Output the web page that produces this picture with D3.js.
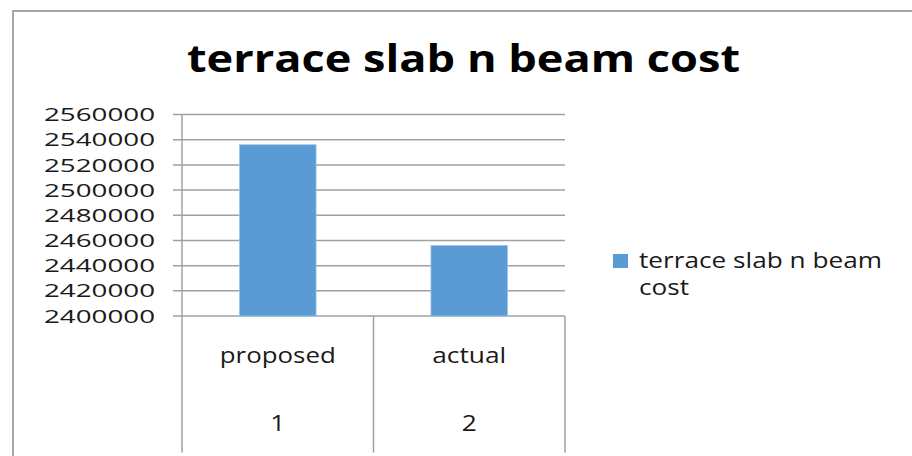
<html>
    <head>
        <meta charset="utf-8">
        <title>terrace slab n beam cost</title>
        <style type="text/css">
            body { margin: 0; background: #fff; }
            text { font-family: "Open Sans", sans-serif; fill: #1a1a1a; }
        </style>
        <script src="https://d3js.org/d3.v7.min.js"></script>
    </head>
    <body>
    	<svg width="912" height="456"></svg>
    	<script>
		// data
		var categories = ["proposed", "actual"];
		var categoryIndex = ["1", "2"];
		var seriesName = "terrace slab n beam cost";
		var values = [2536000, 2456000];
		var yTicks = [2400000, 2420000, 2440000, 2460000, 2480000, 2500000, 2520000, 2540000, 2560000];

		var svg = d3.select("svg"),
		    margin = {top: 114.5, left: 182},
		    width = 383,
		    height = 201.5,
		    g = svg.append("g").attr("transform", `translate(${margin.left},${margin.top})`);

		// outer chart border (runs off the right/bottom edge)
		svg.append("path")
			.attr("d", "M13,460 L13,11 L916,11")
			.attr("fill", "none")
			.attr("stroke", "#a6a6a6")
			.attr("stroke-width", 2);

		svg.append("text")
			.text(seriesName)
			.attr("x", 187)
			.attr("y", 72)
			.attr("textLength", 553)
			.attr("lengthAdjust", "spacingAndGlyphs")
			.style("font-size", "37px")
			.style("font-weight", "bold")
			.style("fill", "#000");

		var xScale = d3.scaleBand()
					.domain(categories)
					.range([0, width])
					.padding(0);
		var yScale = d3.scaleLinear()
					.domain([d3.min(yTicks), d3.max(yTicks)])
					.range([height, 0]);

		// gridlines + tick marks
		g.append("g")
			.selectAll("line")
			.data(yTicks)
			.enter()
			.append("line")
				.attr("x1", -9)
				.attr("x2", width)
				.attr("y1", d => yScale(d))
				.attr("y2", d => yScale(d))
				.attr("stroke", "#a0a0a0")
				.attr("stroke-width", 1.5);

		// y labels
		g.append("g")
			.selectAll("text")
			.data(yTicks)
			.enter()
			.append("text")
				.text(d => d3.format("d")(d))
				.attr("x", -27)
				.attr("y", d => yScale(d))
				.attr("dy", "0.36em")
				.attr("text-anchor", "end")
				.attr("textLength", 111)
				.attr("lengthAdjust", "spacingAndGlyphs")
				.style("font-size", "18.5px");

		// bars
		var barW = xScale.bandwidth() * 0.4;
		g.append("g")
			.selectAll("rect")
			.data(values)
			.enter()
			.append("rect")
				.attr("x", (d, i) => xScale(categories[i]) + (xScale.bandwidth() - barW) / 2)
				.attr("y", d => yScale(d))
				.attr("width", barW)
				.attr("height", d => height - yScale(d))
				.attr("fill", "#5b9bd5")
				.attr("stroke", "#9cc2e6")
				.attr("stroke-width", 0.8);

		// y axis line and category table
		var tableBottom = 338;
		g.append("line")
			.attr("x1", 0).attr("x2", 0)
			.attr("y1", 0).attr("y2", tableBottom)
			.attr("stroke", "#a0a0a0")
			.attr("stroke-width", 1.5);

		g.append("g")
			.selectAll("line")
			.data(categories)
			.enter()
			.append("line")
				.attr("x1", d => xScale(d) + xScale.bandwidth())
				.attr("x2", d => xScale(d) + xScale.bandwidth())
				.attr("y1", height)
				.attr("y2", tableBottom)
				.attr("stroke", "#a0a0a0")
				.attr("stroke-width", 1.5);

		var cells = g.append("g")
			.selectAll("g")
			.data(categories)
			.enter()
			.append("g")
				.attr("transform", d => `translate(${xScale(d) + xScale.bandwidth() / 2},${height})`);

		cells.append("text")
			.text(d => d)
			.attr("y", 47)
			.attr("text-anchor", "middle")
			.attr("textLength", d => d === "proposed" ? 116 : 74)
			.attr("lengthAdjust", "spacingAndGlyphs")
			.style("font-size", "21px");

		cells.append("text")
			.text((d, i) => categoryIndex[i])
			.attr("y", 115)
			.attr("text-anchor", "middle")
			.style("font-size", "21px")
			.attr("transform", "scale(1.25,1)");

		// legend
		var legend = svg.append("g").attr("transform", "translate(613,254)");
		legend.append("rect")
			.attr("width", 15)
			.attr("height", 14)
			.attr("fill", "#5b9bd5");
		legend.append("text")
			.text("terrace slab n beam")
			.attr("x", 26)
			.attr("y", 14)
			.attr("textLength", 243)
			.attr("lengthAdjust", "spacingAndGlyphs")
			.style("font-size", "21px");
		legend.append("text")
			.text("cost")
			.attr("x", 26)
			.attr("y", 41)
			.attr("textLength", 50)
			.attr("lengthAdjust", "spacingAndGlyphs")
			.style("font-size", "21px");
    	</script>
  </body>
</html>
